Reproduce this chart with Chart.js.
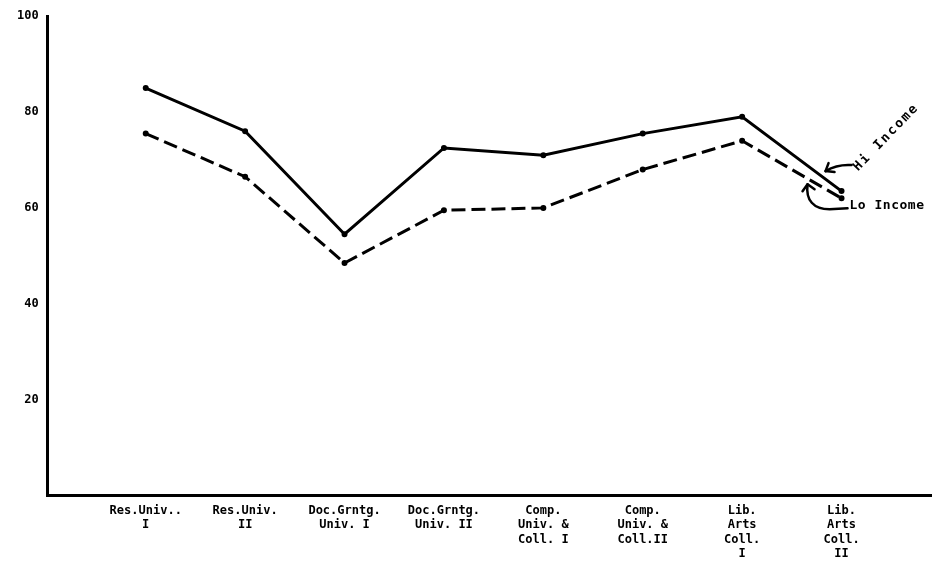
<!DOCTYPE html>
<html>
<head>
<meta charset="utf-8">
<script src="https://cdn.jsdelivr.net/npm/chart.js@4/dist/chart.umd.min.js"></script>
<style>
  html, body { margin: 0; padding: 0; background: #ffffff; }
  #wrap { width: 938px; height: 569px; position: relative; }
</style>
</head>
<body>
<div id="wrap"><canvas id="c" width="938" height="569"></canvas></div>
<script>
// ---- data ----
const categories = [
  "Res.Univ..\nI",
  "Res.Univ.\nII",
  "Doc.Grntg.\nUniv. I",
  "Doc.Grntg.\nUniv. II",
  "Comp.\nUniv. &\nColl. I",
  "Comp.\nUniv. &\nColl.II",
  "Lib.\nArts\nColl.\nI",
  "Lib.\nArts\nColl.\nII"
];
const hiIncome = [85, 76, 54.5, 72.5, 71, 75.5, 79, 63.5];
const loIncome = [75.5, 66.5, 48.5, 59.5, 60, 68, 74, 62];
const yTickValues = [20, 40, 60, 80, 100];
const seriesNames = ["Hi Income", "Lo Income"];

const FONT = "'DejaVu Sans Mono', 'Liberation Mono', monospace";

const toPoints = arr => arr.map((v, i) => ({ x: i + 1, y: v }));

const annotPlugin = {
  id: 'annot',
  afterDatasetsDraw(chart) {
    const ctx = chart.ctx;
    const xs = chart.scales.x, ys = chart.scales.y;
    const last = categories.length;
    const px = xs.getPixelForValue(last);
    const hy = ys.getPixelForValue(hiIncome[last - 1]);
    const ly = ys.getPixelForValue(loIncome[last - 1]);
    ctx.save();
    ctx.strokeStyle = '#000';
    ctx.fillStyle = '#000';
    ctx.lineWidth = 2.5;
    ctx.lineCap = 'round';
    ctx.lineJoin = 'round';

    // Hi Income label (rotated)
    ctx.save();
    ctx.translate(px + 14, hy - 22);
    ctx.rotate(-46 * Math.PI / 180);
    ctx.font = "bold 13px " + FONT;
    if ('letterSpacing' in ctx) ctx.letterSpacing = '2px';
    ctx.textAlign = 'left';
    ctx.textBaseline = 'middle';
    ctx.fillText(seriesNames[0], 0, 0);
    ctx.restore();

    // Hi arrow
    const htx = px - 16, hty = hy - 20;
    ctx.beginPath();
    ctx.moveTo(px + 10, hy - 26);
    ctx.quadraticCurveTo(px - 4, hy - 27, htx, hty);
    ctx.stroke();
    ctx.beginPath();
    ctx.moveTo(htx, hty);
    ctx.lineTo(htx + 3, hty - 8);
    ctx.moveTo(htx, hty);
    ctx.lineTo(htx + 9, hty + 1);
    ctx.stroke();

    // Lo Income label
    ctx.save();
    ctx.font = "bold 13px " + FONT;
    if ('letterSpacing' in ctx) ctx.letterSpacing = '0.5px';
    ctx.textAlign = 'left';
    ctx.textBaseline = 'middle';
    ctx.fillText(seriesNames[1], px + 8, ly + 7);
    ctx.restore();

    // Lo arrow (curved, pointing up)
    const ltx = px - 34, lty = ly - 14;
    ctx.beginPath();
    ctx.moveTo(px + 6, ly + 10);
    ctx.lineTo(px - 12, ly + 11);
    ctx.bezierCurveTo(px - 28, ly + 11, px - 36, ly + 2, ltx, lty);
    ctx.stroke();
    ctx.beginPath();
    ctx.moveTo(ltx, lty);
    ctx.lineTo(ltx - 5, lty + 7);
    ctx.moveTo(ltx, lty);
    ctx.lineTo(ltx + 7, lty + 5);
    ctx.stroke();
    ctx.restore();
  }
};

new Chart(document.getElementById('c'), {
  type: 'line',
  data: {
    datasets: [
      {
        label: seriesNames[0],
        data: toPoints(hiIncome),
        borderColor: '#000',
        backgroundColor: '#000',
        borderWidth: 3,
        pointRadius: 1.5,
        tension: 0,
        fill: false
      },
      {
        label: seriesNames[1],
        data: toPoints(loIncome),
        borderColor: '#000',
        backgroundColor: '#000',
        borderWidth: 3,
        borderDash: [14, 6],
        pointRadius: 1.5,
        tension: 0,
        fill: false
      }
    ]
  },
  options: {
    responsive: false,
    animation: false,
    devicePixelRatio: 1,
    layout: { padding: { left: 8, top: 8, right: 0, bottom: 0 } },
    plugins: {
      legend: { display: false },
      tooltip: { enabled: false },
      title: { display: false }
    },
    scales: {
      x: {
        type: 'linear',
        min: 0.0135,
        max: 8.9,
        afterBuildTicks(scale) {
          scale.ticks = categories.map((c, i) => ({ value: i + 1 }));
        },
        grid: { display: false, drawTicks: false },
        border: { display: true, color: '#000', width: 3 },
        ticks: {
          autoSkip: false,
          maxRotation: 0,
          padding: 8,
          color: '#000',
          font: { family: FONT, size: 12, weight: 'bold', lineHeight: 1.2 },
          callback: (v) => {
            const c = categories[Math.round(v) - 1];
            return c ? c.split('\n') : '';
          }
        }
      },
      y: {
        type: 'linear',
        min: 0,
        max: 100,
        afterBuildTicks(scale) {
          scale.ticks = yTickValues.map(v => ({ value: v }));
        },
        grid: { display: false, drawTicks: false },
        border: { display: true, color: '#000', width: 3 },
        ticks: {
          padding: 9,
          color: '#000',
          font: { family: FONT, size: 12, weight: 'bold' },
          callback: (v) => String(v)
        }
      }
    }
  },
  plugins: [annotPlugin]
});
</script>
</body>
</html>
